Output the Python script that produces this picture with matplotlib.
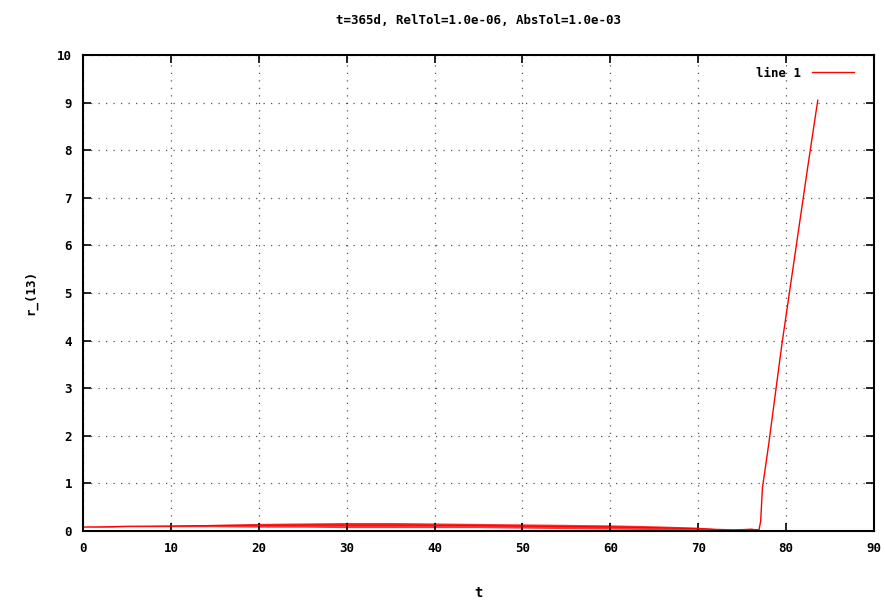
import matplotlib

matplotlib.use("Agg")

import matplotlib.pyplot as plt

# slow phase: band of the fast oscillation (upper / lower envelope)
t_band = [0, 3, 5, 10, 15, 20, 25, 30, 35, 40, 45, 50, 55, 60, 65, 70, 72, 74, 76, 76.9]
r_upper = [0.09, 0.10, 0.11, 0.12, 0.14, 0.16, 0.17, 0.18, 0.18, 0.17, 0.16,
           0.15, 0.14, 0.13, 0.11, 0.08, 0.05, 0.04, 0.06, 0.04]
r_lower = [0.08, 0.08, 0.09, 0.09, 0.09, 0.08, 0.08, 0.07, 0.07, 0.07, 0.07,
           0.06, 0.05, 0.04, 0.03, 0.02, 0.02, 0.01, 0.01, 0.01]

# blow-up at the end
t_spike = [76.9, 77.1, 77.3, 78.0, 79.5, 81.0, 82.5, 83.6]
r_spike = [0.02, 0.2, 0.9, 1.8, 3.9, 5.8, 7.7, 9.05]

x_ticks = list(range(0, 91, 10))
y_ticks = list(range(0, 11, 1))

FONT = "DejaVu Sans Mono"
FS = 9
plt.rcParams["font.family"] = FONT
plt.rcParams["font.size"] = FS

fig = plt.figure(figsize=(8.85, 6.03), dpi=100)
ax = fig.add_axes([0.0938, 0.1194, 0.8938, 0.7894])

red = "#ff0000"
ax.fill_between(t_band, r_lower, r_upper, color=red, alpha=0.8, linewidth=0)
r_mid = [(a + b) / 2 for a, b in zip(r_upper, r_lower)]
ax.plot(t_band, r_mid, color=red, linewidth=0.9)
ax.plot(t_spike, r_spike, color=red, linewidth=1.0)
# legend entry
ax.plot([], [], color=red, linewidth=1.0, label="line 1")

ax.set_xlim(0, 90)
ax.set_ylim(0, 10)
ax.set_xticks(x_ticks)
ax.set_yticks(y_ticks)
ax.tick_params(direction="in", length=6, width=1.2, top=True, right=True,
               labelsize=FS, pad=8)
for lbl in ax.get_xticklabels() + ax.get_yticklabels():
    lbl.set_fontweight("bold")
ax.grid(True, color="#555555", linestyle=(0, (1, 5)), linewidth=0.9)
for s in ax.spines.values():
    s.set_linewidth(1.5)

ax.set_title("t=365d, RelTol=1.0e-06, AbsTol=1.0e-03", fontsize=FS,
             fontweight="bold", pad=22)
ax.set_xlabel("t", fontsize=10, fontweight="bold", labelpad=22)
ax.set_ylabel("r_(13)", fontsize=FS, fontweight="bold", labelpad=14)

leg = ax.legend(loc="center right", bbox_to_anchor=(0.975, 0.962),
                frameon=False, handlelength=3.4, handletextpad=0.9,
                markerfirst=False, borderaxespad=0, borderpad=0,
                prop={"family": FONT, "size": FS, "weight": "bold"})

fig.savefig("out.png", dpi=100)
